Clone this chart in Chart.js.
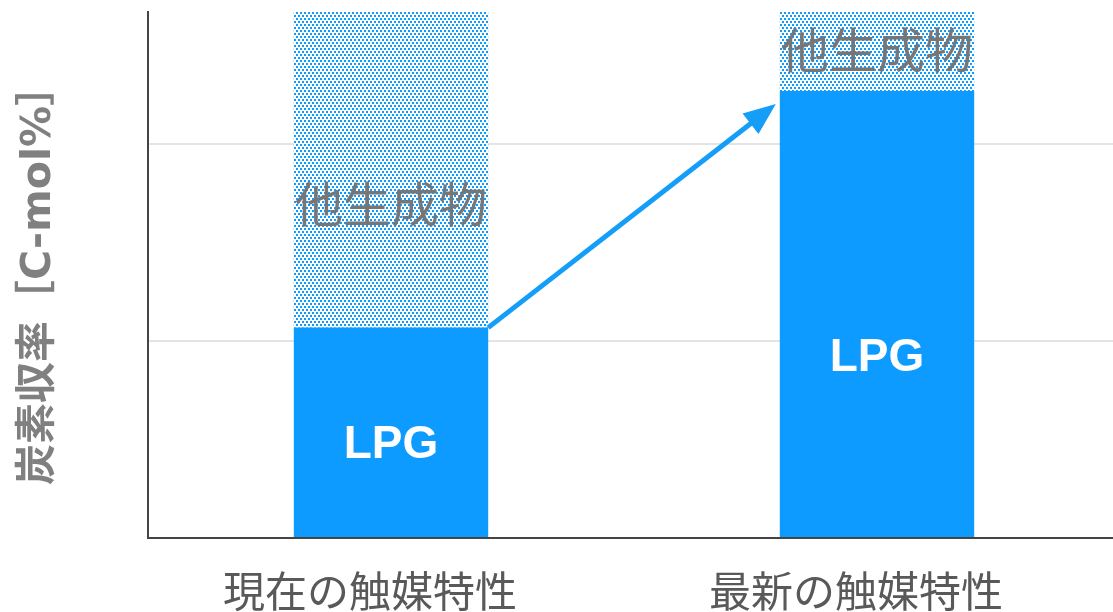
<!DOCTYPE html>
<html>
<head>
<meta charset="utf-8">
<script src="https://cdn.jsdelivr.net/npm/chart.js@4.4.0/dist/chart.umd.min.js"></script>
<style>
  html, body { margin: 0; padding: 0; background: #fff; overflow: hidden; }
</style>
</head>
<body>
<canvas id="yieldChart" width="1120" height="612"></canvas>
<script>
// カテゴリと値（炭素収率 C-mol%）
const categories = ["現在の触媒特性", "最新の触媒特性"];
const lpgValues = [40, 85];
const otherValues = [60, 15];
const seriesNames = ["LPG", "他生成物"];
const gridTicks = [37.5, 75];

// ラベルを置く高さ（データ値）
const lpgLabelAt = [17.7, 34.2];
const otherLabelAt = [63.5, 92.8];

const BLUE = "#0d9bff";

// 他生成物のドット模様
function makeDots() {
  const c = document.createElement("canvas");
  c.width = 4;
  c.height = 6;
  const g = c.getContext("2d");
  g.fillStyle = "#fff";
  g.fillRect(0, 0, 4, 6);
  g.fillStyle = BLUE;
  g.fillRect(0, 0, 2, 2);
  g.fillRect(2, 3, 2, 2);
  return g.createPattern(c, "repeat");
}

// 矢印と棒の中のラベル
const overlayPlugin = {
  id: "overlay",
  afterDatasetsDraw(chart) {
    const ctx = chart.ctx;
    const y = chart.scales.y;
    const bars0 = chart.getDatasetMeta(0).data;

    ctx.save();
    // 矢印
    const x1 = bars0[0].x + bars0[0].width / 2;
    const y1 = y.getPixelForValue(lpgValues[0]);
    const x2 = bars0[1].x - bars0[1].width / 2 - 4;
    const y2 = y.getPixelForValue(82.5);
    const ang = Math.atan2(y2 - y1, x2 - x1);
    const headLen = 32, headW = 13;
    const bx = x2 - headLen * Math.cos(ang);
    const by = y2 - headLen * Math.sin(ang);
    ctx.strokeStyle = "#159ef8";
    ctx.fillStyle = "#159ef8";
    ctx.lineWidth = 5;
    ctx.beginPath();
    ctx.moveTo(x1, y1);
    ctx.lineTo(bx + 4 * Math.cos(ang), by + 4 * Math.sin(ang));
    ctx.stroke();
    ctx.beginPath();
    ctx.moveTo(x2, y2);
    ctx.lineTo(bx + headW * Math.sin(ang), by - headW * Math.cos(ang));
    ctx.lineTo(bx - headW * Math.sin(ang), by + headW * Math.cos(ang));
    ctx.closePath();
    ctx.fill();

    // ラベル
    ctx.textAlign = "center";
    ctx.textBaseline = "middle";
    bars0.forEach((bar, i) => {
      ctx.fillStyle = "#ffffff";
      ctx.font = "bold 46px 'Liberation Sans', Arial, sans-serif";
      ctx.fillText(seriesNames[0], bar.x, y.getPixelForValue(lpgLabelAt[i]));
      ctx.fillStyle = "#767676";
      ctx.font = "48px 'Noto Sans CJK JP', sans-serif";
      ctx.fillText(seriesNames[1], bar.x, y.getPixelForValue(otherLabelAt[i]));
    });
    ctx.restore();
  }
};

const chart = new Chart(document.getElementById("yieldChart").getContext("2d"), {
  type: "bar",
  data: {
    labels: categories,
    datasets: [
      { label: seriesNames[0], data: lpgValues, backgroundColor: BLUE, borderWidth: 0 },
      { label: seriesNames[1], data: otherValues, backgroundColor: makeDots(), borderWidth: 0 }
    ]
  },
  options: {
    responsive: false,
    animation: false,
    categoryPercentage: 0.4,
    barPercentage: 1,
    layout: { padding: { top: 12, right: 0, bottom: 0, left: 0 } },
    plugins: {
      legend: { display: false },
      tooltip: { enabled: false }
    },
    scales: {
      x: {
        stacked: true,
        grid: { display: false, drawTicks: false },
        border: { display: true, color: "#444", width: 2 },
        ticks: {
          color: "#595959",
          padding: 28,
          labelOffset: -21,
          font: { family: "'Noto Sans CJK JP', sans-serif", size: 42 }
        },
        afterFit(scale) { scale.height = 74; }
      },
      y: {
        stacked: true,
        min: 0,
        max: 100,
        ticks: { display: false, stepSize: 37.5 },
        grid: {
          drawTicks: false,
          lineWidth: 2,
          color: (c) => gridTicks.includes(c.tick.value) ? "#e4e4e4" : "rgba(0,0,0,0)"
        },
        border: { display: true, color: "#444", width: 2 },
        title: {
          display: true,
          text: "炭素収率［C-mol%］",
          color: "#808080",
          padding: { top: 15, bottom: 0 },
          font: { family: "'DejaVu Sans', 'Noto Sans CJK JP', sans-serif", size: 41, weight: "bold" }
        },
        afterFit(scale) { scale.width = 148; }
      }
    }
  },
  plugins: [overlayPlugin]
});
</script>
</body>
</html>
